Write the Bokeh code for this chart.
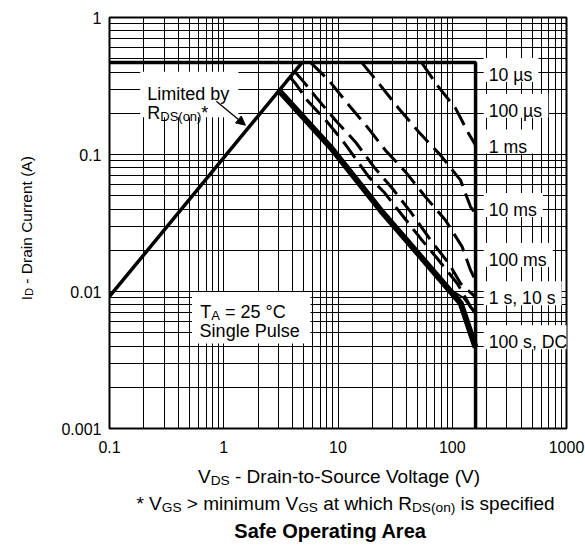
import math
from bokeh.plotting import figure
from bokeh.layouts import column, row
from bokeh.models import (FixedTicker, CustomJSTickFormatter, Label, BoxAnnotation,
                          Arrow, NormalHead)
from bokeh.embed import file_html
from bokeh.resources import INLINE

# ---------------- data ----------------
x_ticks = [0.1, 1, 10, 100, 1000]
x_tick_labels = ["0.1", "1", "10", "100", "1000"]
y_ticks = [0.001, 0.01, 0.1, 1]
y_tick_labels = ["0.001", "0.01", "0.1", "1"]

# Limited by RDS(on)
rds_v = [0.1, 4.86]
rds_i = [0.0092, 0.47]
# 10 us / 100 us boundary (max pulsed current, max voltage)
limit_v = [0.1, 160, 160]
limit_i = [0.47, 0.47, 0.001]
# 1 ms
ms1_v = [53.8, 73.8, 106.7, 138.7, 160]
ms1_i = [0.47, 0.32, 0.218, 0.143, 0.117]
# 10 ms
ms10_v = [16.1, 22.8, 34.0, 50.9, 78.9, 118, 144.6, 160]
ms10_i = [0.47, 0.33, 0.217, 0.146, 0.099, 0.065, 0.0415, 0.037]
# 100 ms
ms100_v = [5.74, 8.3, 12.1, 18.0, 26.1, 39.0, 58.4, 87.3, 122, 144.6, 160]
ms100_i = [0.47, 0.348, 0.236, 0.159, 0.107, 0.0746, 0.049, 0.0331, 0.0212, 0.0143, 0.012]
# 1 s
s1_v = [4.16, 5.01, 6.57, 9.5, 14.2, 20.6, 29.9, 43.2, 64.7, 93.5, 118.6, 160]
s1_i = [0.405, 0.339, 0.256, 0.178, 0.1236, 0.0812, 0.0565, 0.0381, 0.0237, 0.016, 0.0114, 0.0091]
# 10 s
s10_v = [3.80, 4.24, 5.37, 8.04, 10.9, 18.6, 25.2, 36.5, 52.8, 74, 111, 145, 160]
s10_i = [0.368, 0.33, 0.249, 0.173, 0.127, 0.0686, 0.0533, 0.036, 0.0244, 0.0174, 0.0114, 0.0077, 0.0070]
# 100 s
s100_v = [3.03, 8.6, 23.6, 64.6, 100, 125, 160]
s100_i = [0.296, 0.115, 0.040, 0.0152, 0.0101, 0.0090, 0.0068]
# DC
dc_v = [3.03, 8.6, 23.6, 64.7, 118.6, 160]
dc_i = [0.294, 0.113, 0.0392, 0.0148, 0.0082, 0.0039]

curve_labels = ["10 µs", "100 µs", "1 ms", "10 ms", "100 ms", "1 s, 10 s", "100 s, DC"]

FONT = "Liberation Sans"
TOTAL_W, TOTAL_H = 585, 545
LEFT_W = 40          # strip holding the y-axis title
MAIN_H = 465         # main chart height; the rest holds the x title / notes
B_SHIFT = 8          # observed vertical offset of the lower strip

# ---------------- main figure ----------------
p = figure(width=TOTAL_W - LEFT_W, height=MAIN_H, x_axis_type="log", y_axis_type="log",
           x_range=(0.1, 1000), y_range=(0.001, 1), title=None,
           output_backend="svg", toolbar_location=None,
           min_border_left=69, min_border_right=19, min_border_top=17, min_border_bottom=37)
p.background_fill_color = "white"
p.border_fill_color = "white"
p.outline_line_color = "black"
p.outline_line_width = 2

xminor = [m * 10.0 ** e for e in range(-1, 3) for m in range(2, 10)]
yminor = [m * 10.0 ** e for e in range(-3, 0) for m in range(2, 10)]
xt = FixedTicker(ticks=x_ticks, minor_ticks=xminor)
yt = FixedTicker(ticks=y_ticks, minor_ticks=yminor)
p.xaxis.ticker = xt
p.yaxis.ticker = yt
p.xgrid.ticker = xt
p.ygrid.ticker = yt
for g in (p.xgrid, p.ygrid):
    g.grid_line_color = "black"
    g.grid_line_width = 1
    g.minor_grid_line_color = "black"
    g.minor_grid_line_width = 1

fmt_code = """
for (let i = 0; i < tv.length; i++) {
  if (Math.abs(tv[i] - tick) <= 1e-9 * Math.max(1, Math.abs(tick))) return lv[i];
}
return "";
"""
p.xaxis.formatter = CustomJSTickFormatter(args=dict(tv=x_ticks, lv=x_tick_labels), code=fmt_code)
p.yaxis.formatter = CustomJSTickFormatter(args=dict(tv=y_ticks, lv=y_tick_labels), code=fmt_code)
for ax in (p.xaxis, p.yaxis):
    ax.axis_line_color = None
    ax.major_tick_line_color = None
    ax.minor_tick_line_color = None
    ax.major_tick_in = 0
    ax.major_tick_out = 0
    ax.minor_tick_in = 0
    ax.minor_tick_out = 0
    ax.major_label_text_font = FONT
    ax.major_label_text_font_size = "16px"
    ax.major_label_text_color = "black"
p.xaxis.major_label_standoff = 12
p.yaxis.major_label_standoff = 8

# ---------------- curves ----------------
p.line(limit_v, limit_i, line_width=3.5, color="black")
p.line(rds_v, rds_i, line_width=3.5, color="black")
for v, i in ((ms1_v, ms1_i), (ms10_v, ms10_i), (ms100_v, ms100_i), (s1_v, s1_i), (s10_v, s10_i)):
    p.line(v, i, line_width=3, color="black", line_dash="20 8")
p.line(s100_v, s100_i, line_width=2, color="black")
p.line(dc_v, dc_i, line_width=6, color="black", line_join="round")

# ---------------- side figures for the titles ----------------
def blank(w, h):
    f = figure(width=w, height=h, x_range=(0, w), y_range=(0, h), title=None,
               output_backend="svg", toolbar_location=None, min_border=0,
               x_axis_location=None, y_axis_location=None)
    f.grid.visible = False
    f.outline_line_color = None
    f.background_fill_color = "white"
    f.border_fill_color = "white"
    return f


yfig = blank(LEFT_W, MAIN_H)
bfig = blank(TOTAL_W, TOTAL_H - MAIN_H)

# ---------------- text helpers ----------------
W = {' ': 278, '!': 278, '(': 333, ')': 333, '*': 389, ',': 278, '-': 333, '.': 278,
     '=': 584, '>': 584, '°': 400, 'µ': 576,
     'A': 667, 'C': 722, 'D': 722, 'G': 778, 'I': 278, 'L': 556, 'O': 778, 'P': 667,
     'R': 722, 'S': 667, 'T': 611, 'V': 667,
     'a': 556, 'b': 556, 'c': 500, 'd': 556, 'e': 556, 'f': 278, 'g': 556, 'h': 556,
     'i': 222, 'l': 222, 'm': 833, 'n': 556, 'o': 556, 'p': 556, 'r': 333, 's': 500,
     't': 278, 'u': 556, 'w': 722, 'y': 500}


def tw(s, size):
    return sum(W.get(c, 556) for c in s) * size / 1000.0


# page pixel -> coordinates of each figure
def main_xy(px, py):
    return 10 ** (-1 + (px - 109.3) / 114.1), 10 ** (-(py - 17.3) / 137.0)


def y_xy(px, py):
    return px, MAIN_H - py


def b_xy(px, py):
    return px, TOTAL_H - py + B_SHIFT


def rich(fig, mapper, pieces, px, py, size, align="left", angle=0.0, bold=False):
    sub = size * 0.72
    drop = size * 0.22
    widths = [tw(t, sub if s else size) for t, s in pieces]
    off = 0.0 if align == "left" else -sum(widths) / 2.0
    x, y = mapper(px, py)
    for (t, s), w in zip(pieces, widths):
        fs = sub if s else size
        shown = t.lstrip(" ")
        lead = tw(t[: len(t) - len(shown)], fs)
        kw = dict(x=x, y=y, text=shown, text_font=FONT,
                  text_font_size="%.1fpx" % fs, text_color="black",
                  text_align="left", text_baseline="alphabetic",
                  text_font_style="bold" if bold else "normal")
        if angle == 0:
            lab = Label(x_offset=off + lead, y_offset=(-drop if s else 0), **kw)
        else:
            lab = Label(x_offset=(drop if s else 0), y_offset=off + lead, angle=angle, **kw)
        fig.add_layout(lab)
        off += w


def box(l, t, r, b):
    x0, y0 = main_xy(l, b)
    x1, y1 = main_xy(r, t)
    p.add_layout(BoxAnnotation(left=x0, right=x1, top=y1, bottom=y0,
                               fill_color="white", fill_alpha=1, line_color=None))


# axis titles and notes
rich(yfig, y_xy, [("I", False), ("D", True), (" - Drain Current (A)", False)], 25.5, 320, 15.5,
     angle=math.pi / 2)
rich(bfig, b_xy, [("V", False), ("DS", True), (" - Drain-to-Source Voltage (V)", False)],
     339, 484, 19, align="center")
rich(bfig, b_xy, [("* V", False), ("GS", True), (" > minimum V", False), ("GS", True),
                  (" at which R", False), ("DS(on)", True), (" is specified", False)],
     345, 511, 19, align="center")
rich(bfig, b_xy, [("Safe Operating Area", False)], 325, 538, 20, align="center", bold=True)

# Limited by RDS(on)* note
box(140, 71.5, 238, 117)
rich(p, main_xy, [("Limited by", False)], 147, 93.3, 18)
rich(p, main_xy, [("R", False), ("DS(on)", True), ("*", False)], 147, 112.3, 18)
ax0, ay0 = main_xy(216, 101)
ax1, ay1 = main_xy(245, 125)
p.add_layout(Arrow(end=NormalHead(size=9, fill_color="black", line_color="black", line_width=1),
                   x_start=ax0, y_start=ay0, x_end=ax1, y_end=ay1,
                   line_width=1.3, line_color="black"))

# TA note
box(191.7, 291.7, 310, 343.3)
rich(p, main_xy, [("T", False), ("A", True), (" = 25 °C", False)], 200, 311.7, 18)
rich(p, main_xy, [("Single Pulse", False)], 199.3, 330.7, 18)

# curve labels on the right
label_baselines = [74.7, 110.5, 146.4, 209.7, 259.7, 298.0, 342.0]
for txt, bl in zip(curve_labels, label_baselines):
    w = tw(txt, 17.7)
    box(483, bl - 17, 488 + w + 6, bl + 7)
    rich(p, main_xy, [(txt, False)], 488, bl, 17.7)

layout = column(row(yfig, p, spacing=0), bfig, spacing=0)
open("out.html", "w").write(file_html(layout, INLINE))
